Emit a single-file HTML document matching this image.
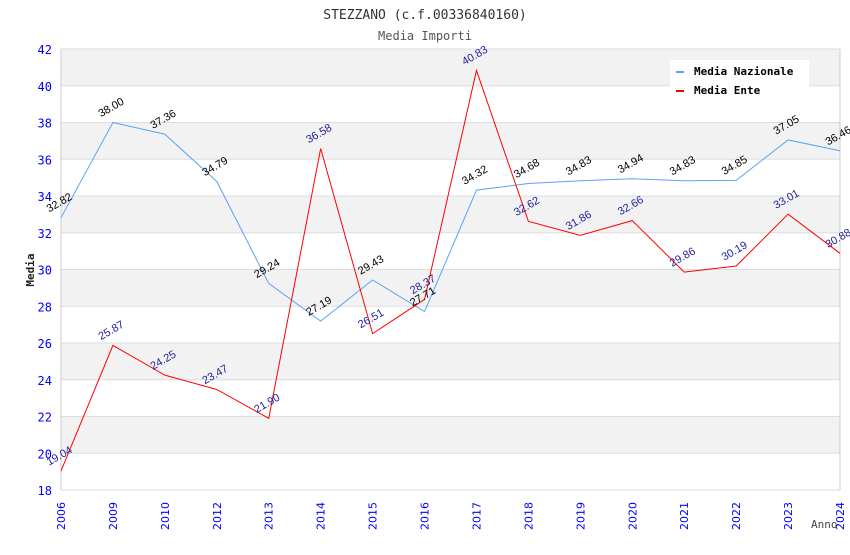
<!DOCTYPE html>
<html><head><meta charset="utf-8"><style>
body{margin:0;background:#fff}
svg{font-family:"DejaVu Sans Mono","Liberation Mono",monospace}
</style></head><body>
<svg id="c" width="850" height="550" xmlns="http://www.w3.org/2000/svg">
<text x="425" y="19" text-anchor="middle" font-size="13" fill="#333">STEZZANO (c.f.00336840160)</text>
<text x="425" y="40" text-anchor="middle" font-size="12" fill="#555">Media Importi</text>
<g id="bands"></g><g id="grid"></g><g id="axes"></g><g id="series"></g><g id="labels"></g>
<text transform="translate(34,270) rotate(-90)" text-anchor="middle" font-size="11" font-weight="bold" fill="#222">Media</text>
<text x="811" y="528" font-size="11" fill="#444">Anno</text>
<g>
<rect x="670" y="60" width="139" height="40" fill="#fff"/>
<rect x="676" y="71" width="8" height="2" fill="#5ba3f5"/>
<text x="694" y="75" font-size="11" font-weight="bold" fill="#000">Media Nazionale</text>
<rect x="676" y="90" width="8" height="2" fill="#f00"/>
<text x="694" y="94" font-size="11" font-weight="bold" fill="#000">Media Ente</text>
</g>
</svg>
<script>
const categories=["2006","2009","2010","2012","2013","2014","2015","2016","2017","2018","2019","2020","2021","2022","2023","2024"];
const nazionale=[32.82,38.00,37.36,34.79,29.24,27.19,29.43,27.71,34.32,34.68,34.83,34.94,34.83,34.85,37.05,36.46];
const ente=[19.04,25.87,24.25,23.47,21.90,36.58,26.51,28.37,40.83,32.62,31.86,32.66,29.86,30.19,33.01,30.88];
const yTicks=[18,20,22,24,26,28,30,32,34,36,38,40,42];
const NS="http://www.w3.org/2000/svg";
const X0=61,X1=840,Y0=490,Y1=49,YMIN=18,YMAX=42;
const x=i=>X0+(X1-X0)*i/(categories.length-1);
const y=v=>Y0-(v-YMIN)/(YMAX-YMIN)*(Y0-Y1);
function mk(tag,attrs,parent){const e=document.createElementNS(NS,tag);for(const k in attrs)e.setAttribute(k,attrs[k]);document.getElementById(parent).appendChild(e);return e;}
for(let i=0;i<yTicks.length-1;i++){
  if(i%2===1){const b=mk('rect',{x:X0,y:y(yTicks[i+1]),width:X1-X0,height:y(yTicks[i])-y(yTicks[i+1]),fill:'#f2f2f2'},'bands');
  
  }
}
yTicks.forEach(t=>{
  const l=mk('line',{x1:X0,x2:X1,y1:y(t),y2:y(t),stroke:'#ddd'},'grid');
  
  
  const tx=mk('text',{x:52,y:y(t)+5,'text-anchor':'end','font-size':12,fill:'#00f'},'axes');
  tx.textContent=t;
  
  
});
mk('line',{x1:X0,x2:X0,y1:Y1,y2:Y0,stroke:'#ccc'},'axes');
mk('line',{x1:X1,x2:X1,y1:Y1,y2:Y0,stroke:'#ccc'},'axes');
categories.forEach((c,i)=>{
  const t=mk('text',{transform:`translate(${x(i)+4},${530}) rotate(-90)`,'font-size':11,fill:'#00f','font-family':'DejaVu Sans, sans-serif'},'axes');
  t.textContent=c;
  
  
});
function series(vals,color,lblColor,name){
  const p=mk('polyline',{points:vals.map((v,i)=>x(i)+','+y(v)).join(' '),fill:'none',stroke:color,'stroke-width':1},'series');
  
  
  vals.forEach((v,i)=>{
    const t=mk('text',{transform:`translate(${x(i)},${y(v)-12}) rotate(-30)`,'text-anchor':'middle','font-size':11,fill:lblColor,'font-family':'Liberation Sans, sans-serif'},'labels');
    t.textContent=v.toFixed(2);
    
    
  });
}
series(nazionale,'#5ba3f5','#000','media-nazionale-line');
series(ente,'#f00','#22229a','media-ente-line');
</script>
</body></html>
